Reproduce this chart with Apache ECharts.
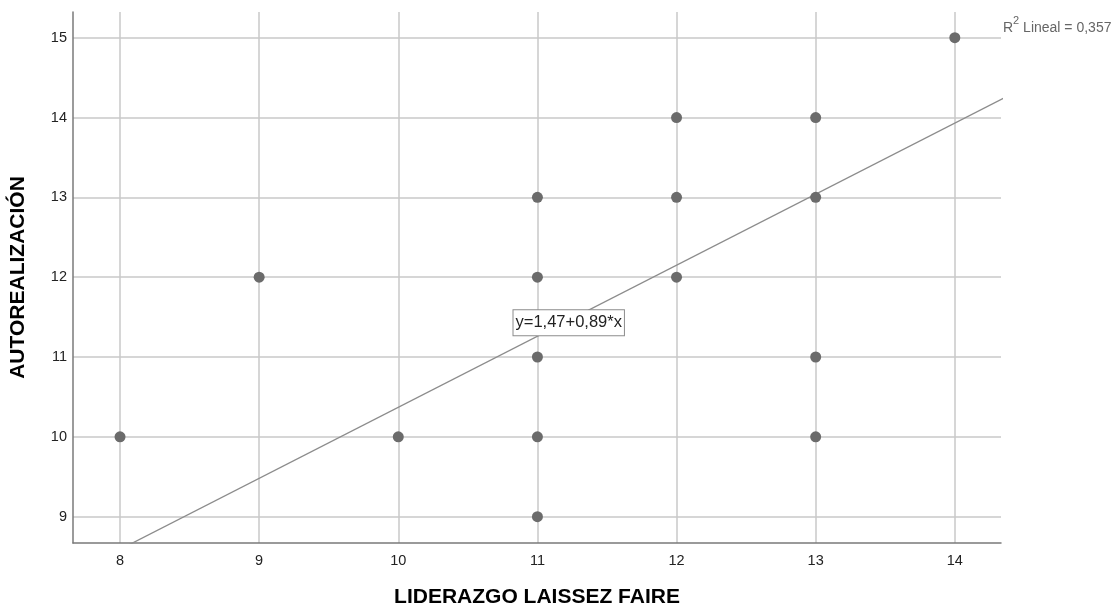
<!DOCTYPE html>
<html>
<head>
<meta charset="utf-8">
<script src="https://cdn.jsdelivr.net/npm/echarts@6/dist/echarts.min.js"></script>
<style>
  html, body { margin: 0; padding: 0; background: #fff; }
  #chart { width: 1113px; height: 606px; }
</style>
</head>
<body>
<div id="chart"></div>
<script>
// Observed pairs: liderazgo laissez faire (x) vs autorealización (y)
const liderazgo = [8, 9, 10, 11, 11, 11, 11, 11, 12, 12, 12, 13, 13, 13, 13, 14];
const autorealizacion = [10, 12, 10, 13, 12, 11, 10, 9, 14, 13, 12, 14, 13, 11, 10, 15];

// Fitted linear model y = a + b*x
const intercept = 1.47;
const slope = 0.89;
const rSquared = '0,357';
const equationText = 'y=1,47+0,89*x';

const xTicks = [8, 9, 10, 11, 12, 13, 14];
const yTicks = [9, 10, 11, 12, 13, 14, 15];

const points = liderazgo.map((x, i) => [x, autorealizacion[i]]);
const fitEnds = [7.5, 14.5].map(x => [x, intercept + slope * x]);

const font = '"Liberation Sans", Arial, sans-serif';
const chart = echarts.init(document.getElementById('chart'), null, { renderer: 'canvas' });

chart.setOption({
  animation: false,
  backgroundColor: '#ffffff',
  grid: { left: 73, right: 112, top: 12, bottom: 63, containLabel: false, outerBoundsMode: 'none' },
  xAxis: {
    type: 'value',
    min: 7.662,
    max: 14.332,
    name: 'LIDERAZGO LAISSEZ FAIRE',
    nameLocation: 'middle',
    nameGap: 44,
    nameTextStyle: { fontFamily: font, fontSize: 21, fontWeight: 'bold', color: '#000' },
    axisLine: { show: true, onZero: false, lineStyle: { color: '#7a7a7a', width: 1.5 } },
    axisTick: { show: false },
    splitLine: { show: false },
    axisLabel: {
      fontFamily: font, fontSize: 14.5, color: '#222', margin: 10,
      customValues: xTicks
    }
  },
  yAxis: {
    type: 'value',
    min: 8.670,
    max: 15.322,
    name: 'AUTOREALIZACIÓN',
    nameLocation: 'middle',
    nameGap: 44,
    nameRotate: 90,
    nameTextStyle: { fontFamily: font, fontSize: 21, fontWeight: 'bold', color: '#000' },
    axisLine: { show: true, onZero: false, lineStyle: { color: '#7a7a7a', width: 1.5 } },
    axisTick: { show: false },
    splitLine: { show: false },
    axisLabel: {
      fontFamily: font, fontSize: 14.5, color: '#222', margin: 6,
      customValues: yTicks
    }
  },
  series: [
    {
      // grid lines at each tick value
      type: 'line',
      silent: true,
      z: 0,
      data: [],
      markLine: {
        silent: true,
        z: 0,
        symbol: 'none',
        label: { show: false },
        lineStyle: { color: '#c8c8c8', width: 1.5, type: 'solid' },
        data: xTicks.map(v => ({ xAxis: v }))
          .concat(yTicks.map(v => ({ yAxis: v })))
      }
    },
    {
      type: 'line',
      data: fitEnds,
      showSymbol: false,
      symbol: 'none',
      clip: true,
      lineStyle: { color: '#8c8c8c', width: 1.3 },
      z: 3
    },
    {
      type: 'scatter',
      data: points,
      symbolSize: 11,
      itemStyle: { color: '#6b6b6b', opacity: 1 },
      z: 5,
      markPoint: {
        symbol: 'rect',
        symbolSize: 0,
        z: 6,
        data: [{ coord: [11.225, 11.43] }],
        label: {
          show: true,
          position: 'inside',
          formatter: equationText,
          fontFamily: font,
          fontSize: 16.5,
          color: '#222',
          backgroundColor: '#fff',
          borderColor: '#8c8c8c',
          borderWidth: 1,
          padding: [4, 2, 4, 2]
        }
      }
    }
  ],
  graphic: [
    {
      type: 'text',
      left: 1003,
      top: 15,
      style: {
        text: '{r|R}{s|2}{r| Lineal = ' + rSquared + '}',
        rich: {
          r: { fontFamily: font, fontSize: 14, fill: '#666', verticalAlign: 'bottom', lineHeight: 20 },
          s: { fontFamily: font, fontSize: 11, fill: '#666', verticalAlign: 'top', lineHeight: 20, padding: [0, 0, 4, 0] }
        }
      }
    }
  ]
});
</script>
</body>
</html>
